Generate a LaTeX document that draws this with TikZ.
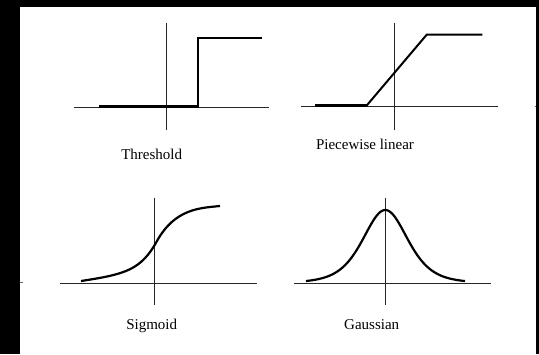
\documentclass[tikz,border=0pt]{standalone}
\usepackage{fontspec}
\setmainfont{Liberation Serif}
\begin{document}
\begin{tikzpicture}[x=1pt,y=-1pt,
  axis/.style={line width=0.9pt,black!85},
  curve/.style={line width=2pt,black,line join=miter},
  heavy/.style={line width=2.8pt,black},
  lab/.style={font=\fontsize{15}{17}\selectfont,inner sep=0pt,anchor=center},
  stray/.style={line width=1pt,black!60}]
\useasboundingbox (0,0) rectangle (539,354);
\fill[black] (0,0) rectangle (539,354);
\fill[white] (20,7) rectangle (536,354);
% Threshold
\draw[axis] (74,107) -- (269,107);
\draw[axis] (166.7,22.7) -- (166.7,130);
\draw[heavy] (99,106.7) -- (197.7,106.7);
\draw[curve] (197.7,107.5) -- (197.7,37.7) -- (262.3,37.7);
\node[lab] (thr) at (151.7,154) {Threshold};
% Piecewise linear
\draw[axis] (301,106.7) -- (498.3,106.7);
\draw[axis] (394,22.7) -- (394,130);
\draw[heavy] (315,105.5) -- (366.7,105.5);
\draw[curve] (366.7,105.5) -- (426.7,34.7) -- (482.3,34.7);
\node[lab] (pwl) at (365,144.3) {Piecewise linear};
% Sigmoid
\draw[axis] (60,283) -- (257.3,283);
\draw[axis] (154,197.7) -- (154,305.3);
\draw[curve,line width=2.2pt] (81,281) .. controls (126,274.2) and (141,269.8) .. (157,241)
  .. controls (175,208.6) and (200,208) .. (220,206);
\node[lab] (sig) at (151.7,326.3) {Sigmoid};
% Gaussian
\draw[axis] (294,283) -- (490.7,283);
\draw[axis] (385.3,197.7) -- (385.3,305.3);
\draw[curve,line width=2.2pt,domain=306:465,samples=150] plot (\x,{283-73/(1+((\x-385.3)/52)^2)^3});
\node[lab] (gau) at (371.7,324.3) {Gaussian};
% stray marks
\draw[stray] (534.5,106.7) -- (536,106.7);
\draw[stray] (20,282.7) -- (23,282.7);
\end{tikzpicture}
\end{document}
